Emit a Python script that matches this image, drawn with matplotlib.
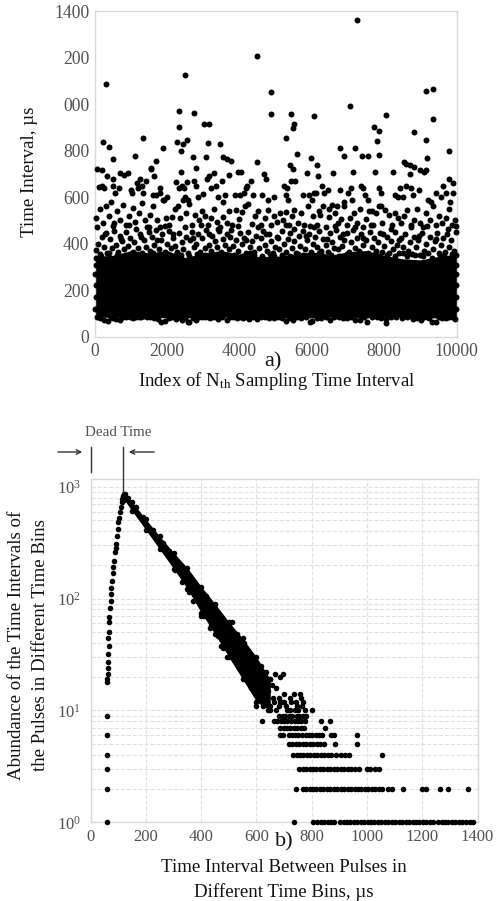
import matplotlib
matplotlib.use("Agg")
import matplotlib.pyplot as plt
from matplotlib.lines import Line2D
from matplotlib.patches import FancyArrowPatch

plt.rcParams['font.family'] = ['Liberation Serif', 'DejaVu Serif']
plt.rcParams['mathtext.fontset'] = 'custom'
plt.rcParams['mathtext.rm'] = 'Liberation Serif'
plt.rcParams['mathtext.default'] = 'rm'

# ---------- panel a data ----------
a_band_x = [0, 500, 1000, 1500, 2000, 2500, 3000, 3500, 4000, 4500, 5000, 5500, 6000, 6500, 7000, 7500, 8000, 8500, 9000, 9500, 10000]
a_band_high = [345, 350, 370, 360, 370, 340, 360, 370, 355, 345, 345, 355, 365, 350, 365, 370, 350, 335, 330, 345, 355]
a_band_low = [84, 82, 84, 84, 80, 80, 84, 84, 82, 84, 84, 80, 80, 84, 84, 80, 84, 84, 80, 80, 84]
a_top_x = [7248, 4488, 2502, 314, 4857, 9151, 9354, 2327, 7054, 4857, 2752, 5420, 6057, 8052, 9354, 2327, 3029, 3158, 5503, 5476, 7719, 7858, 8818, 5272, 1330, 9151, 231, 397, 2262, 2539, 2428, 2382, 3121, 3453, 7812, 1884, 6768, 7193, 9797, 1099, 2705, 3066, 3537, 3647, 3758, 5586, 5983, 6879, 7387, 7553, 7858, 9178, 508, 4488, 8541, 8596, 8707, 65, 203, 2807, 1680, 1542, 5402, 5476, 6140, 8818, 8984, 9151]
a_top_y = [1364, 1208, 1128, 1089, 1055, 1058, 1068, 971, 993, 958, 963, 958, 950, 954, 935, 902, 915, 915, 915, 896, 902, 885, 880, 853, 853, 845, 836, 817, 836, 845, 828, 801, 832, 828, 840, 813, 813, 813, 801, 778, 774, 774, 774, 766, 757, 787, 770, 778, 778, 778, 783, 770, 766, 753, 753, 745, 738, 721, 717, 725, 757, 727, 738, 723, 738, 731, 717, 717]
a_mid_x = [100, 190, 240, 320, 500, 510, 560, 660, 700, 800, 910, 1000, 1010, 1150, 1190, 1250, 1290, 1330, 1420, 1560, 1600, 1640, 1700, 1790, 1810, 1900, 2000, 2250, 2320, 2380, 2420, 2470, 2480, 2540, 2580, 2740, 2800, 2850, 3000, 3100, 3140, 3200, 3300, 3350, 3400, 3500, 3550, 3600, 3700, 3880, 3950, 4020, 4050, 4120, 4170, 4200, 4320, 4380, 4620, 4680, 4720, 4780, 4950, 5230, 5300, 5280, 5350, 5420, 5530, 5760, 5870, 5920, 6000, 6050, 6120, 6160, 6200, 6280, 6340, 6450, 6480, 6580, 6700, 6790, 6900, 7000, 7080, 7130, 7100, 7350, 7420, 7480, 7560, 7650, 7750, 7850, 7920, 7900, 8250, 8300, 8380, 8450, 8520, 8600, 8700, 8750, 8800, 8950, 9100, 9200, 9300, 9420, 9560, 9620, 9700, 9780, 9900, 9900, 9830,
            40, 130, 220, 300, 380, 450, 530, 620, 700, 770, 860, 950, 1040, 1120, 1210, 1300, 1370, 1450, 1530, 1610, 1720, 1800, 1880, 1970, 2060, 2130, 2210, 2290, 2360, 2440, 2530, 2610, 2690, 2770, 2880, 2960, 3050, 3120, 3220, 3290, 3380, 3460, 3530, 3640, 3720, 3800, 3890, 3970, 4060, 4150, 4240, 4330, 4420, 4520, 4600, 4700, 4790, 4880, 4960, 5040, 5110, 5190, 5270, 5360, 5440, 5510, 5620, 5700, 5790, 5880, 5960, 6040, 6130, 6220, 6300, 6390, 6470, 6560, 6640, 6730, 6810, 6900, 6980, 7060, 7170, 7240, 7320, 7400, 7500, 7580, 7680, 7770, 7860, 7950, 8030, 8120, 8210, 8290, 8380, 8470, 8560, 8640, 8730, 8820, 8910, 8990, 9080, 9170, 9260, 9340, 9430, 9520, 9610, 9700, 9790, 9880, 9960]
a_mid_y = [645, 650, 640, 690, 680, 650, 620, 640, 705, 695, 705, 630, 620, 660, 640, 680, 650, 620, 670, 720, 610, 690, 610, 640, 620, 590, 600, 665, 640, 710, 650, 640, 600, 665, 590, 670, 650, 600, 615, 680, 690, 640, 705, 650, 600, 670, 580, 610, 695, 610, 710, 610, 710, 620, 640, 650, 670, 610, 610, 700, 680, 590, 600, 650, 640, 610, 590, 670, 670, 610, 705, 610, 590, 620, 620, 690, 540, 650, 620, 630, 550, 705, 560, 630, 580, 620, 640, 710, 590, 650, 640, 610, 590, 540, 710, 640, 620, 560, 710, 610, 600, 640, 600, 650, 700, 640, 610, 630, 710, 590, 580, 620, 600, 650, 620, 680, 660, 620, 580,
            510, 550, 490, 560, 520, 580, 490, 540, 500, 565, 480, 520, 555, 495, 530, 575, 500, 470, 525, 560, 500, 470, 590, 510, 480, 515, 550, 560, 510, 590, 530, 570, 480, 525, 500, 540, 520, 480, 510, 550, 495, 470, 515, 490, 540, 480, 545, 505, 535, 560, 570, 485, 520, 540, 480, 510, 545, 480, 520, 495, 530, 500, 535, 480, 520, 545, 490, 530, 480, 560, 475, 520, 480, 525, 560, 470, 515, 565, 530, 490, 505, 560, 480, 510, 530, 490, 550, 470, 505, 540, 480, 530, 560, 490, 545, 525, 480, 530, 510, 490, 520, 545, 480, 500, 550, 490, 470, 530, 500, 560, 480, 520, 490, 510, 550, 480, 500]
a_dense_x = [30, 75, 145, 190, 255, 310, 345, 410, 470, 515, 580, 635, 690, 740, 805, 850, 915, 965, 1020, 1090, 1135, 1195, 1240, 1310, 1355, 1420, 1485, 1525, 1590, 1640, 1695, 1760, 1815, 1860, 1935, 1980, 2040, 2105, 2150, 2220, 2265, 2330, 2395, 2440, 2505, 2560, 2615, 2680, 2730, 2795, 2840, 2910, 2965, 3030, 3075, 3140, 3205, 3250, 3315, 3370, 3430, 3485, 3545, 3600, 3655, 3720, 3775, 3830, 3890, 3950, 4005, 4060, 4125, 4170, 4235, 4290, 4355, 4410, 4465, 4530, 4580, 4640, 4695, 4760, 4810, 4870, 4930, 4985, 5045, 5100, 5160, 5220, 5275, 5335, 5390, 5450, 5510, 5565, 5630, 5680, 5740, 5800, 5855, 5915, 5975, 6030, 6090, 6145, 6205, 6265, 6320, 6380, 6435, 6495, 6555, 6610, 6670, 6730, 6785, 6845, 6900, 6960, 7020, 7075, 7135, 7195, 7250, 7310, 7365, 7425, 7485, 7540, 7600, 7655, 7715, 7775, 7830, 7890, 7945, 8005, 8065, 8120, 8180, 8235, 8295, 8355, 8410, 8470, 8525, 8585, 8645, 8700, 8760, 8815, 8875, 8935, 8990, 9050, 9105, 9165, 9225, 9280, 9340, 9395, 9455, 9515, 9570, 9630, 9685, 9745, 9805, 9860, 9920, 9975,
             60, 170, 280, 390, 495, 610, 720, 825, 940, 1055, 1160, 1270, 1385, 1500, 1605, 1720, 1830, 1945, 2055, 2170, 2280, 2385, 2500, 2610, 2720, 2830, 2945, 3055, 3165, 3280, 3390, 3505, 3615, 3730, 3840, 3955, 4065, 4180, 4290, 4400, 4510, 4625, 4735, 4845, 4960, 5070, 5180, 5295, 5405, 5515, 5625, 5740, 5850, 5960, 6070, 6185, 6295, 6405, 6520, 6630, 6740, 6850, 6965, 7075, 7190, 7300, 7410, 7520, 7635, 7745, 7860, 7970, 8080, 8190, 8305, 8415, 8530, 8640, 8750, 8860, 8975, 9085, 9195, 9310, 9420, 9530, 9645, 9755, 9865, 9980]
a_dense_y = [372, 400, 355, 430, 385, 445, 360, 420, 380, 455, 395, 365, 435, 410, 375, 450, 390, 425, 360, 405, 465, 380, 440, 360, 415, 385, 450, 370, 430, 395, 460, 375, 415, 440, 365, 400, 455, 380, 425, 390, 360, 445, 405, 375, 430, 360, 415, 450, 385, 400, 440, 365, 425, 380, 460, 395, 370, 435, 410, 385, 455, 365, 420, 395, 440, 375, 460, 390, 415, 370, 445, 400, 425, 360, 450, 385, 410, 365, 435, 380, 425, 455, 395, 370, 440, 410, 360, 385, 430, 375, 455, 400, 365, 420, 445, 380, 410, 360, 435, 390, 455, 375, 415, 440, 365, 400, 430, 385, 455, 370, 420, 395, 365, 445, 405, 380, 460, 375, 430, 390, 415, 445, 365, 405, 460, 380, 425, 370, 440, 395, 415, 360, 450, 385, 425, 370, 405, 445, 365, 390, 430, 360, 410, 375, 450, 395, 360, 425, 385, 440, 370, 405, 355, 430, 385, 415, 350, 445, 370, 400, 360, 430, 375, 410, 445, 360, 395, 425, 365, 440, 385, 415, 370, 450,
             470, 345, 440, 360, 475, 350, 420, 345, 480, 365, 350, 430, 345, 470, 360, 415, 350, 475, 345, 440, 365, 350, 470, 345, 425, 355, 480, 350, 440, 345, 465, 355, 345, 430, 350, 475, 345, 415, 360, 350, 470, 345, 440, 355, 345, 425, 350, 480, 345, 465, 355, 350, 435, 345, 470, 360, 345, 420, 350, 475, 345, 440, 355, 345, 470, 350, 425, 345, 480, 355, 345, 440, 350, 465, 345, 415, 360, 345, 470, 350, 435, 345, 475, 340, 420, 350, 345, 465, 355, 475]
a_edge_x = [60, 130, 240, 350, 430, 500, 590, 690, 770, 850, 960, 1040, 1130, 1210, 1280, 1360, 1430, 1520, 1620, 1730, 1830, 1930, 2050, 2140, 2240, 2320, 2420, 2500, 2560, 2600, 2700, 2790, 2870, 2950, 3050, 3120, 3190, 3290, 3410, 3520, 3650, 3740, 3830, 3930, 4010, 4090, 4180, 4270, 4380, 4490, 4600, 4700, 4820, 4960, 5060, 5170, 5290, 5380, 5480, 5600, 5700, 5830, 5960, 6010, 6130, 6250, 6380, 6500, 6620, 6740, 6860, 6980, 7090, 7190, 7340, 7440, 7530, 7650, 7800, 7920, 8040, 8060, 8200, 8330, 8480, 8620, 8710, 8800, 8910, 9020, 9100, 9180, 9250, 9330, 9420, 9510, 9600, 9700, 9800, 9880, 9950,
            10, 15, 20, 10, 25, 15, 9985, 9990, 9975, 9995, 9985, 9990]
a_edge_y = [85, 78, 72, 68, 82, 80, 76, 72, 82, 84, 86, 78, 82, 86, 84, 88, 82, 86, 80, 76, 64, 66, 80, 86, 74, 84, 70, 78, 62, 64, 78, 72, 82, 84, 82, 86, 78, 84, 74, 84, 72, 84, 84, 78, 86, 80, 84, 76, 84, 74, 86, 85, 78, 80, 86, 78, 68, 78, 72, 84, 78, 82, 64, 66, 78, 80, 86, 72, 84, 84, 78, 80, 82, 70, 72, 82, 64, 82, 84, 78, 76, 60, 84, 86, 78, 82, 88, 76, 80, 70, 84, 84, 80, 62, 64, 84, 80, 78, 84, 82, 76,
            120, 170, 220, 270, 310, 340, 120, 170, 220, 270, 310, 350]
a_xticks = [0, 2000, 4000, 6000, 8000, 10000]
a_yticks = [0, 200, 400, 600, 800, 1000, 1200, 1400]
a_ylabels = ['0', '200', '400', '600', '800', '000', '200', '1400']

# ---------- panel b data ----------
b_rise_x = [60, 60, 61, 62, 63, 64, 65, 64, 66, 67, 68, 70, 72, 73, 75, 78, 80, 82, 85, 88, 90, 92, 95, 98, 100, 103, 105, 108, 112, 115, 118, 120, 124]
b_rise_y = [18, 19, 21, 24, 27, 32, 38, 44, 50, 62, 68, 82, 95, 110, 125, 145, 170, 190, 215, 260, 285, 310, 360, 420, 480, 530, 600, 660, 730, 780, 820, 850, 860]
b_band_x = [122, 150, 200, 250, 300, 350, 400, 450, 500, 550, 600, 650]
b_band_high = [860, 730, 510, 360, 258, 188, 128, 90, 62, 44, 30, 19]
b_band_low = [760, 605, 410, 275, 185, 122, 75, 48, 30, 19, 12, 10]
b_scat_x = [135, 165, 190, 225, 262, 283, 315, 345, 372, 392, 418, 446, 462, 488, 505, 525, 548, 568, 590, 372, 398, 430, 455, 472, 495, 520, 535, 560, 580, 598, 612, 625, 640, 655, 668, 685, 695, 620, 632, 648, 660, 672, 686, 700, 712, 725, 735, 748, 760, 770, 775, 590, 605, 628, 645, 670, 680, 692, 708, 722, 738, 752, 765,
            305, 330, 355, 380, 410, 435, 460, 480, 510, 530, 555, 575, 600, 615, 635, 650, 600, 625, 640, 665, 680, 700, 720, 742, 758]
b_scat_y = [800, 660, 540, 410, 315, 265, 205, 160, 135, 110, 105, 80, 68, 55, 45, 42, 35, 28, 28, 95, 70, 55, 48, 38, 30, 28, 24, 19, 16, 14, 18, 20, 15, 17, 21, 20, 21, 12, 14, 11, 13, 16, 12, 14, 10, 12, 14, 11, 13, 12, 10, 18, 15, 13, 11, 10, 11, 12, 11, 10, 10, 10, 11,
            180, 140, 115, 98, 70, 58, 46, 36, 62, 48, 40, 30, 24, 25, 22, 19, 11, 11, 10, 12, 13, 12, 13, 12, 14]
b_row_9x = [60, 680, 695, 705, 718, 730, 745, 755, 768, 778, 800]
b_row_9y = [9, 9, 9, 9, 9, 9, 9, 9, 9, 9, 10]
b_row_8x = [620, 665, 675, 690, 700, 712, 725, 738, 750, 762, 775, 833, 866]
b_row_7x = [685, 698, 710, 722, 735, 748, 760, 772, 848]
b_row_6x = [60, 685, 695, 717, 728, 740, 752, 765, 778, 790, 802, 815, 825, 838, 868, 882, 965]
b_row_5x = [718, 730, 742, 755, 768, 780, 792, 805, 818, 830, 843, 885, 965]
b_row_4x = [60, 733, 745, 757, 770, 783, 795, 808, 820, 833, 845, 858, 870, 887, 905, 920, 935, 1055]
b_row_3x = [60, 755, 768, 780, 792, 805, 817, 830, 842, 855, 867, 880, 892, 905, 917, 930, 942, 955, 970, 1000, 1012, 1030, 1045]
b_row_2x = [60, 742, 768, 780, 792, 805, 817, 830, 842, 855, 867, 880, 892, 905, 917, 930, 942, 955, 967, 980, 992, 1005, 1017, 1030, 1042, 1055, 1075, 1090, 1132, 1198, 1212, 1265, 1292, 1366]
b_row_1x = [60, 735, 805, 820, 832, 845, 858, 870, 882, 902, 915, 927, 940, 952, 965, 977, 990, 1002, 1015, 1027, 1040, 1052, 1065, 1077, 1090, 1102, 1115, 1127, 1140, 1152, 1165, 1177, 1190, 1202, 1215, 1228, 1238, 1256, 1270, 1282, 1295, 1308, 1320, 1333, 1345, 1358, 1372, 1382]
b_xticks = [0, 200, 400, 600, 800, 1000, 1200, 1400]
b_yticks = [1, 10, 100, 1000]
b_ylabels = [r'$10^{0}$', r'$10^{1}$', r'$10^{2}$', r'$10^{3}$']

W, H = 496, 901
TICK = '#505050'
SPINE = '#d8d8d8'
fig = plt.figure(figsize=(W / 100, H / 100), dpi=100, facecolor='white')


def box(left, top, right, bottom):
    return [left / W, 1 - bottom / H, (right - left) / W, (bottom - top) / H]


def style(ax, size, ypad):
    for s in ax.spines.values():
        s.set_color(SPINE)
        s.set_linewidth(1.0)
    ax.tick_params(axis='x', length=0, labelcolor=TICK, labelsize=size, pad=5)
    ax.tick_params(axis='y', length=0, labelcolor=TICK, labelsize=size, pad=ypad)


# ---------- panel a ----------
ax = fig.add_axes(box(95, 11.5, 456.5, 336.5))
ax.set_xlim(0, 10000)
ax.set_ylim(0, 1400)
ax.fill_between(a_band_x, a_band_low, a_band_high, color='black', lw=0, zorder=2)
for xs, ys in ((a_top_x, a_top_y), (a_mid_x, a_mid_y), (a_dense_x, a_dense_y), (a_edge_x, a_edge_y)):
    ax.plot(xs, ys, 'o', color='black', ms=4.3, mew=0, clip_on=False, zorder=3)
ax.set_xticks(a_xticks)
ax.set_yticks(a_yticks)
ax.set_yticklabels(a_ylabels)
style(ax, 12.7, 4)

# ---------- panel b ----------
bx = fig.add_axes(box(90.7, 479.3, 477.5, 822.3))
bx.set_xlim(0, 1400)
bx.set_yscale('log')
bx.set_ylim(1, 1000 * 10 ** (7.4 / 112))
bx.grid(True, which='both', color='#e0e0e0', ls='--', lw=0.8, zorder=0)
bx.fill_between(b_band_x, b_band_low, b_band_high, color='black', lw=0, zorder=2)
series = [(b_rise_x, b_rise_y), (b_band_x, b_band_high), (b_band_x, b_band_low), (b_scat_x, b_scat_y), (b_row_9x, b_row_9y)]
for xs, count in ((b_row_8x, 8), (b_row_7x, 7), (b_row_6x, 6), (b_row_5x, 5), (b_row_4x, 4), (b_row_3x, 3), (b_row_2x, 2), (b_row_1x, 1)):
    series.append((xs, [count] * len(xs)))
for xs, ys in series:
    bx.plot(xs, ys, 'o', color='black', ms=4.0, mew=0, clip_on=False, zorder=3)
bx.set_xticks(b_xticks)
bx.set_yticks(b_yticks)
bx.set_yticklabels(b_ylabels)
bx.set_yticks([m * d for d in (1, 10, 100) for m in (2, 3, 4, 5, 6, 7, 8, 9)], minor=True)
bx.set_yticklabels([], minor=True)
bx.tick_params(which='minor', length=0)
style(bx, 12, 7)


def label(px, py, s, size, rotation=0, color='#111111'):
    fig.text(px / W, 1 - py / H, s, ha='center', va='center', fontsize=size, rotation=rotation, color=color)


label(29, 172, 'Time Interval, µs', 13.6, 90)
label(273, 362, 'a)', 16)
label(277, 381, r'Index of N$_{\mathrm{th}}$ Sampling Time Interval', 13.5)
label(17, 645, 'Abundance of the Time Intervals of', 13.6, 90)
label(41, 645, 'the Pulses in Different Time Bins', 13.6, 90)
label(284, 842, 'b)', 16)
label(284, 868, 'Time Interval Between Pulses in', 13.6)
label(284, 892, 'Different Time Bins, µs', 13.6)
label(118, 433, 'Dead Time', 10.8, color=TICK)

trans = fig.transFigure


def seg(x0, y0, x1, y1, lw=1.0):
    fig.add_artist(Line2D([x0 / W, x1 / W], [1 - y0 / H, 1 - y1 / H], color='#333333', lw=lw, transform=trans))


seg(90.7, 447, 90.7, 472)
seg(122.7, 447, 122.7, 492)
for tail, head in (((55, 452), (85, 452)), ((157, 452), (126, 452))):
    fig.add_artist(FancyArrowPatch(
        (tail[0] / W, 1 - tail[1] / H), (head[0] / W, 1 - head[1] / H),
        arrowstyle='->', mutation_scale=8, lw=1.0, color='#333333', transform=trans))

fig.savefig('out.png', dpi=100)
